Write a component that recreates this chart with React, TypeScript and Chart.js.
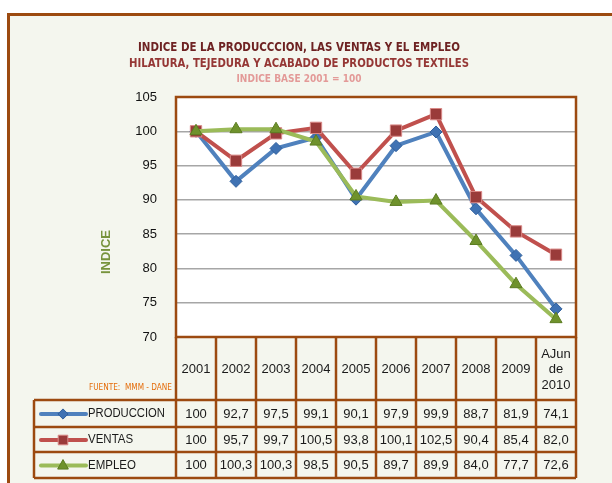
import React, { useEffect, useRef } from "react";
import { Chart, registerables } from "chart.js";

Chart.register(...registerables);

const categories = ["2001", "2002", "2003", "2004", "2005", "2006", "2007", "2008", "2009", "AJun de 2010"];
const headerLabels = [["2001"], ["2002"], ["2003"], ["2004"], ["2005"], ["2006"], ["2007"], ["2008"], ["2009"], ["AJun", "de", "2010"]];
const produccion = [100, 92.7, 97.5, 99.1, 90.1, 97.9, 99.9, 88.7, 81.9, 74.1];
const ventas = [100, 95.7, 99.7, 100.5, 93.8, 100.1, 102.5, 90.4, 85.4, 82.0];
const empleo = [100, 100.3, 100.3, 98.5, 90.5, 89.7, 89.9, 84.0, 77.7, 72.6];
const seriesNames = ["PRODUCCION", "VENTAS", "EMPLEO"];
const titleLines = [
  "INDICE DE LA PRODUCCCION, LAS VENTAS Y EL EMPLEO",
  "HILATURA, TEJEDURA Y ACABADO DE PRODUCTOS TEXTILES",
];
const subtitleText = "INDICE BASE 2001 = 100";
const yAxisTitle = "INDICE";
const sourceText = "FUENTE:  MMM - DANE";
const yMin = 70;
const yMax = 105;
const yStep = 5;

const BROWN = "#9c4a10";
const BG = "#f4f6ee";
const NARROW = '"DejaVu Sans Condensed", "Liberation Sans", sans-serif';
const SANS = '"Liberation Sans", Arial, sans-serif';

const fmt = (v: number) => (v === 100 ? "100" : v.toFixed(1).replace(".", ","));

const styles = [
  { line: "#4f81bd", fill: "#3f72b3", border: "#2f5f9c", style: "rectRot", radius: 6 },
  { line: "#c0504d", fill: "#9a3b3a", border: "#d98886", style: "rect", radius: 8 },
  { line: "#9bbb59", fill: "#6f922c", border: "#5c7d22", style: "triangle", radius: 7 },
];

// draws text squeezed horizontally to a given width, centred or right-aligned at x
function fillFit(ctx: CanvasRenderingContext2D, text: string, x: number, y: number, width: number, align: "center" | "right") {
  const w = ctx.measureText(text).width;
  const s = Math.min(1.2, width / w);
  ctx.save();
  ctx.translate(x, y);
  ctx.scale(s, 1);
  ctx.textAlign = align;
  ctx.fillText(text, 0, 0);
  ctx.restore();
}

function drawMarker(ctx: CanvasRenderingContext2D, style: string, radius: number, x: number, y: number) {
  ctx.beginPath();
  if (style === "rect") {
    const o = Math.SQRT1_2 * radius;
    ctx.rect(x - o, y - o, 2 * o, 2 * o);
  } else if (style === "rectRot") {
    ctx.moveTo(x, y - radius);
    ctx.lineTo(x + radius, y);
    ctx.lineTo(x, y + radius);
    ctx.lineTo(x - radius, y);
    ctx.closePath();
  } else {
    ctx.moveTo(x, y - radius);
    ctx.lineTo(x + radius * 0.9, y + radius * 0.6);
    ctx.lineTo(x - radius * 0.9, y + radius * 0.6);
    ctx.closePath();
  }
  ctx.fill();
  ctx.stroke();
}

const decorPlugin = {
  id: "decor",
  beforeDraw(chart: any) {
    const { ctx, chartArea } = chart;
    ctx.save();
    ctx.fillStyle = "#ffffff";
    ctx.fillRect(0, 0, chart.width, chart.height);
    ctx.fillStyle = BG;
    ctx.fillRect(8, 14, chart.width, chart.height);
    ctx.strokeStyle = BROWN;
    ctx.lineWidth = 3;
    ctx.strokeRect(8.5, 14.5, chart.width + 10, chart.height + 10);
    ctx.fillStyle = "#ffffff";
    ctx.fillRect(chartArea.left, chartArea.top, chartArea.right - chartArea.left, chartArea.bottom - chartArea.top);

    // titles
    ctx.textBaseline = "middle";
    const cx = 299;
    ctx.font = `bold 13px ${NARROW}`;
    ctx.fillStyle = "#6e2222";
    fillFit(ctx, titleLines[0], cx, 48, 322, "center");
    ctx.fillStyle = "#953735";
    fillFit(ctx, titleLines[1], cx, 64, 340, "center");
    ctx.font = `bold 10px ${NARROW}`;
    ctx.fillStyle = "#e39a98";
    fillFit(ctx, subtitleText, cx, 79, 125, "center");

    // y axis title
    ctx.save();
    ctx.translate(106, 252);
    ctx.rotate(-Math.PI / 2);
    ctx.textAlign = "center";
    ctx.font = `bold 13px ${SANS}`;
    ctx.fillStyle = "#77933c";
    ctx.fillText(yAxisTitle, 0, 0);
    ctx.restore();

    // source
    ctx.font = `9px ${NARROW}`;
    ctx.fillStyle = "#e46c0a";
    fillFit(ctx, sourceText, 172, 388, 83, "right");
    ctx.restore();
  },
  afterDraw(chart: any) {
    const { ctx, chartArea } = chart;
    const xs = chart.scales.x;
    const left = chartArea.left;
    const right = chartArea.right;
    const top = chartArea.top;
    const bottom = chartArea.bottom;
    const n = categories.length;
    const colW = (right - left) / n;
    const headerBottom = 400;
    const rowYs = [400, 427, 452, 478];
    const tableLeft = 34;

    ctx.save();
    ctx.strokeStyle = BROWN;
    ctx.lineWidth = 2.5;
    ctx.strokeRect(left, top, right - left, bottom - top);
    for (let i = 0; i <= n; i++) {
      const x = left + i * colW;
      ctx.beginPath();
      ctx.moveTo(x, bottom);
      ctx.lineTo(x, rowYs[3]);
      ctx.stroke();
    }
    ctx.beginPath();
    ctx.moveTo(tableLeft, rowYs[0]);
    ctx.lineTo(tableLeft, rowYs[3]);
    ctx.stroke();
    for (const y of rowYs) {
      ctx.beginPath();
      ctx.moveTo(tableLeft, y);
      ctx.lineTo(right, y);
      ctx.stroke();
    }

    // header labels
    ctx.fillStyle = "#1a1a1a";
    ctx.textAlign = "center";
    ctx.textBaseline = "middle";
    ctx.font = `13px ${SANS}`;
    headerLabels.forEach((lines, i) => {
      const x = xs.getPixelForValue(i);
      const mid = (bottom + headerBottom) / 2 + 1;
      const lh = 15.5;
      lines.forEach((t, j) => {
        ctx.fillText(t, x, mid + (j - (lines.length - 1) / 2) * lh);
      });
    });

    // rows
    const allData = [produccion, ventas, empleo];
    allData.forEach((data, r) => {
      const yMid = (rowYs[r] + rowYs[r + 1]) / 2 + 0.5;
      ctx.font = `13px ${SANS}`;
      ctx.textAlign = "center";
      ctx.fillStyle = "#1a1a1a";
      data.forEach((v, i) => {
        ctx.fillText(fmt(v), xs.getPixelForValue(i), yMid);
      });
      const st = styles[r];
      ctx.strokeStyle = st.line;
      ctx.lineWidth = 4;
      ctx.lineCap = "round";
      ctx.beginPath();
      ctx.moveTo(41, yMid);
      ctx.lineTo(86, yMid);
      ctx.stroke();
      ctx.lineCap = "butt";
      ctx.fillStyle = st.fill;
      ctx.strokeStyle = st.border;
      ctx.lineWidth = 1;
      drawMarker(ctx, st.style, st.radius * 0.85, 63, yMid);
      ctx.fillStyle = "#1a1a1a";
      ctx.textAlign = "left";
      ctx.font = `12.5px ${SANS}`;
      const w = ctx.measureText(seriesNames[r]).width;
      ctx.save();
      ctx.translate(88, yMid);
      ctx.scale(r === 0 ? Math.min(1, 77 / w) : 0.92, 1);
      ctx.fillText(seriesNames[r], 0, 0);
      ctx.restore();
    });
    ctx.restore();
  },
};

export default function App() {
  const ref = useRef<HTMLCanvasElement | null>(null);
  useEffect(() => {
    if (!ref.current) return;
    const series = [produccion, ventas, empleo];
    const chart = new Chart(ref.current, {
      type: "line",
      data: {
        labels: categories,
        datasets: series.map((d, i) => ({
          label: seriesNames[i],
          data: d,
          borderColor: styles[i].line,
          borderWidth: 4,
          pointStyle: styles[i].style as any,
          pointRadius: styles[i].radius,
          pointBackgroundColor: styles[i].fill,
          pointBorderColor: styles[i].border,
          pointBorderWidth: 1,
          tension: 0,
          order: 3 - i,
        })),
      },
      options: {
        animation: false,
        responsive: false,
        events: [],
        layout: { padding: { left: 0, top: 97, right: 36, bottom: 146 } },
        plugins: {
          legend: { display: false },
          title: { display: false },
          tooltip: { enabled: false },
        },
        scales: {
          x: { type: "category", display: false, offset: true },
          y: {
            min: yMin,
            max: yMax,
            afterFit: (s: any) => {
              s.width = 176;
            },
            ticks: {
              stepSize: yStep,
              padding: 19,
              color: "#111",
              font: { family: SANS, size: 13 },
            },
            grid: { color: "#a6a6a6", lineWidth: 1.5, drawTicks: false },
            border: { display: false },
          },
        },
      },
      plugins: [decorPlugin],
    });
    return () => chart.destroy();
  }, []);
  return (
    <div style={{ position: "absolute", left: 0, top: 0, width: 612, height: 483 }}>
      <canvas ref={ref} width={612} height={483} style={{ width: 612, height: 483, display: "block" }} />
    </div>
  );
}
